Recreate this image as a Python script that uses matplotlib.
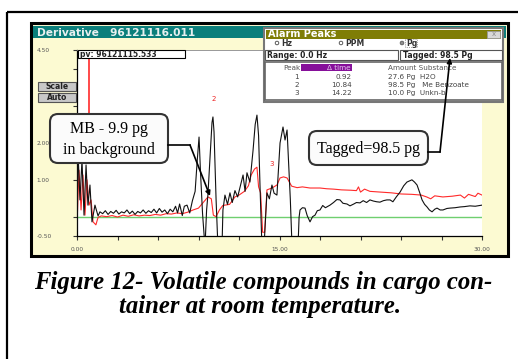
import numpy as np
import matplotlib
matplotlib.use("Agg")
import matplotlib.pyplot as plt
from matplotlib.patches import Rectangle, FancyBboxPatch, Circle

# black trace (derivative signal), time in minutes
t_black = [0.00, 0.07, 0.22, 0.37, 0.52, 0.67, 0.81, 0.96, 1.11, 1.33, 1.56, 1.70,
           1.90, 2.10, 2.30, 2.50, 2.70, 2.90, 3.10, 3.30, 3.50, 3.70, 3.90, 4.10,
           4.30, 4.50, 4.70, 4.90, 5.10, 5.30, 5.50, 5.70, 5.90, 6.10, 6.30, 6.50,
           6.70, 6.90, 7.10, 7.30, 7.45, 7.60, 7.80, 7.95, 8.15, 8.35, 8.55, 8.75,
           8.90, 9.04, 9.15, 9.30, 9.48, 9.60, 9.70, 9.85, 10.00, 10.07, 10.15, 10.30,
           10.44, 10.74, 10.81, 10.96, 11.15, 11.33, 11.50, 11.70, 11.90, 12.07, 12.30, 12.45,
           12.59, 12.81, 13.04, 13.20, 13.33, 13.45, 13.56, 13.70, 13.85, 14.07, 14.25, 14.44,
           14.60, 14.81, 15.04, 15.26, 15.41, 15.56, 15.63, 15.80, 15.93, 16.37, 16.45, 16.52,
           16.70, 16.89, 17.05, 17.26, 17.45, 17.63, 17.80, 18.00, 18.20, 18.40, 18.74, 19.00,
           19.25, 19.48, 19.70, 20.00, 20.22, 20.50, 20.70, 20.96, 21.20, 21.45, 21.70, 21.95,
           22.20, 22.44, 22.70, 22.95, 23.19, 23.40, 23.65, 23.93, 24.20, 24.44, 24.81, 25.00,
           25.19, 25.40, 25.56, 25.75, 25.93, 26.10, 26.30, 26.50, 26.67, 26.90, 27.11, 27.40,
           27.63, 28.00, 28.37, 28.70, 29.11, 29.50, 30.00]
v_black = [-0.34, 1.81, 0.47, 1.54, 0.06, 1.41, 0.33, 0.87, -0.12, 0.33, 0.04, 0.15,
           0.10, 0.18, 0.08, 0.16, 0.11, 0.19, 0.09, 0.15, 0.12, 0.20, 0.10, 0.17,
           0.08, 0.16, 0.12, 0.20, 0.11, 0.18, 0.13, 0.22, 0.12, 0.24, 0.14, 0.20,
           0.10, 0.22, 0.15, 0.30, 0.12, 0.36, 0.05, 0.30, 0.33, 0.12, 0.45, 0.70,
           1.50, 2.16, 1.20, 0.10, -0.80, 0.20, 0.62, 1.60, 2.55, 2.70, 2.30, 0.50,
           -0.80, -0.80, 0.20, 0.60, 0.35, 0.66, 0.40, 0.72, 0.55, 0.80, 1.14, 0.70,
           1.20, 0.95, 1.80, 2.50, 2.75, 2.20, 0.80, -0.80, -0.80, 0.66, 0.50, 0.87,
           0.65, 0.60, 2.00, 2.43, 2.08, 2.35, 1.81, 0.50, -0.80, -0.80, 0.00, 0.20,
           0.26, 0.25, 0.05, -0.12, 0.02, 0.06, 0.18, 0.20, 0.32, 0.26, 0.33, 0.40,
           0.48, 0.47, 0.38, 0.36, 0.31, 0.36, 0.40, 0.39, 0.45, 0.40, 0.47, 0.44,
           0.42, 0.41, 0.45, 0.47, 0.47, 0.42, 0.55, 0.68, 0.85, 0.95, 1.01, 0.95,
           0.87, 0.65, 0.47, 0.35, 0.28, 0.20, 0.15, 0.22, 0.25, 0.20, 0.20, 0.24,
           0.25, 0.26, 0.28, 0.29, 0.31, 0.30, 0.33]

# red trace
t_red = [0.00, 0.15, 0.30, 0.44, 0.59, 0.74, 0.89, 1.04, 1.19, 1.40, 1.56, 1.80,
         2.2, 2.6, 3.0, 3.4, 3.8, 4.2, 4.6, 5.0, 5.4, 5.8, 6.2, 6.6,
         7.0, 7.4, 7.8, 8.2, 8.6, 9.0, 9.3, 9.7, 9.95, 10.1, 10.3, 10.55,
         10.8, 11.3, 11.7, 12.0, 12.4, 12.7, 12.9, 13.15, 13.33, 13.45, 13.60, 13.75,
         13.90, 14.07, 14.44, 14.81, 15.04, 15.3, 15.56, 15.9, 16.3, 16.7, 17.26, 18.0,
         18.5, 19.0, 19.6, 20.3, 20.7, 20.85, 21.0, 21.3, 21.7, 22.5, 23.3, 24.0,
         24.8, 25.5, 25.9, 26.2, 26.5, 27.1, 27.8, 28.4, 28.7, 29.0, 29.5, 29.7, 30.0]
v_red = [-0.20, 1.27, 0.20, 1.14, 0.06, 1.01, 0.33, 0.47, -0.12, -0.20, 0.00, 0.04,
         0.02, 0.05, 0.01, 0.06, 0.03, 0.07, 0.04, 0.06, 0.05, 0.08, 0.06, 0.10,
         0.09, 0.12, 0.10, 0.14, 0.20, 0.25, 0.38, 0.55, 0.50, 0.06, 0.02, 0.20,
         0.32, 0.35, 0.55, 0.60, 0.70, 0.85, 1.14, 1.30, 1.35, 0.82, 0.66, -0.40,
         -0.40, 0.74, 0.79, 0.87, 1.06, 1.09, 1.06, 0.84, 0.80, 0.82, 0.79, 0.79,
         0.77, 0.76, 0.74, 0.73, 0.72, 0.82, 0.68, 0.76, 0.70, 0.68, 0.66, 0.63,
         0.62, 0.60, 0.55, 0.50, 0.58, 0.55, 0.57, 0.60, 0.52, 0.62, 0.56, 0.65, 0.60]

x_ticks = [0, 3, 6, 9, 12, 15, 18, 21, 24, 27, 30]
x_labels = ["0.00", "", "", "", "", "15.00", "", "", "", "", "30.00"]
y_ticks = [4.5, 4.0, 3.0, 2.0, 1.0, 0.0, -0.5]
y_labels = ["4.50", "", "", "2.00", "1.00", "", "-0.50"]
marker_t = 0.92
baseline = 0.0
peak_labels = [("2", 10.15, 3.18), ("3", 14.44, 1.44)]

W, H = 518, 359
fig = plt.figure(figsize=(W / 100, H / 100), dpi=100)
fig.patch.set_facecolor("white")

# background layer in pixel coords
bg = fig.add_axes([0, 0, 1, 1], zorder=0)
bg.set_xlim(0, W)
bg.set_ylim(H, 0)
bg.axis("off")

bg.add_patch(Rectangle((7, 12), 530, 370, fill=False, ec="black", lw=1.6))
bg.add_patch(Rectangle((31, 23), 477, 233, fc="#fcfad2", ec="black", lw=2.2))
bg.add_patch(Rectangle((33, 26), 473, 12, fc="#0b7f7b", ec="none"))
bg.text(37, 32.5, "Derivative   96121116.011", color="#e8f0f0", fontsize=7.7,
        fontweight="bold", va="center", ha="left")

for lab, y0 in [("Scale", 82), ("Auto", 93)]:
    bg.add_patch(Rectangle((38, y0), 38, 9, fc="#c8c8c8", ec="#555555", lw=0.8))
    bg.text(57, y0 + 4.7, lab, fontsize=5.5, fontweight="bold", color="#222222",
            ha="center", va="center")

bg.text(263, 283, "Figure 12- Volatile compounds in cargo con-", fontsize=17.8,
        family="Liberation Serif", fontweight="bold", style="italic",
        ha="center", va="center")
bg.text(260, 306, "tainer at room temperature.", fontsize=17.8,
        family="Liberation Serif", fontweight="bold", style="italic",
        ha="center", va="center")

# the chart itself
ax = fig.add_axes([77 / W, 1 - 236 / H, 405 / W, 186 / H], zorder=1)
ax.set_facecolor("white")
ax.set_xlim(0, 30)
ax.set_ylim(-0.5, 4.5)
ax.axhline(baseline, color="#6fcf6f", lw=1.0, zorder=1)
ax.plot(t_red, v_red, color="#ff2a2a", lw=0.8, zorder=2)
ax.plot(t_black, v_black, color="#111111", lw=0.8, zorder=3)
ax.vlines(marker_t, 1.8, 4.3, color="#ff2a2a", lw=1.2, zorder=2)
for s, t, v in peak_labels:
    ax.text(t, v, s, color="#ee2222", fontsize=5, ha="center", va="center")

ax.set_xticks(x_ticks)
ax.set_xticklabels(x_labels)
ax.set_yticks(y_ticks)
ax.set_yticklabels(y_labels)
ax.tick_params(axis="both", length=3, width=0.8, color="#333333",
               labelsize=4.2, labelcolor="#555555")
ax.tick_params(axis="x", pad=5)
ax.tick_params(axis="y", pad=26)
for lab in ax.get_yticklabels():
    lab.set_horizontalalignment("left")
ax.spines["right"].set_visible(False)
ax.spines["top"].set_color("#888888")
ax.spines["top"].set_linewidth(0.6)
ax.spines["left"].set_linewidth(0.9)
ax.spines["bottom"].set_linewidth(0.9)

# overlay: alarm window, callouts
ov = fig.add_axes([0, 0, 1, 1], zorder=2)
ov.set_xlim(0, W)
ov.set_ylim(H, 0)
ov.axis("off")
ov.patch.set_alpha(0)

ov.add_patch(Rectangle((78, 50), 107, 8, fc="white", ec="black", lw=0.8))
ov.text(80, 54.3, "pv: 96121115.533", fontsize=5.5, fontweight="bold",
        color="#222222", va="center")

ov.add_patch(Rectangle((264, 28), 239, 74, fc="white", ec="#777777", lw=1.5))
ov.add_patch(Rectangle((266, 29.5), 235, 9, fc="#7f7d05", ec="none"))
ov.text(268, 34.2, "Alarm Peaks", color="white", fontsize=7.0, fontweight="bold",
        va="center")
ov.add_patch(Rectangle((487, 30.5), 13, 7, fc="#d8d8d8", ec="#999999", lw=0.6))
ov.text(493.5, 34, "x", fontsize=5, color="#888888", ha="center", va="center")

for xc, lab, sel in [(277, "Hz", False), (341, "PPM", False), (402, "Pg", True)]:
    ov.add_patch(Circle((xc, 43), 1.8, fc="white", ec="#444444", lw=0.6))
    if sel:
        ov.add_patch(Circle((xc, 43), 0.8, fc="#222222", ec="none"))
    ov.text(xc + 4, 43.3, lab, fontsize=5.5, fontweight="bold", color="#333333",
            va="center")
ov.add_patch(Rectangle((405, 39), 12, 8, fill=False, ec="#555555", lw=0.5, ls=":"))

ov.add_patch(Rectangle((265, 50), 133, 10, fc="white", ec="#555555", lw=0.8))
ov.text(267, 55.3, "Range: 0.0 Hz", fontsize=5.5, fontweight="bold",
        color="#222222", va="center")
ov.add_patch(Rectangle((400, 50), 102, 10, fc="white", ec="#555555", lw=0.8))
ov.text(403, 55.3, "Tagged: 98.5 Pg", fontsize=5.5, fontweight="bold",
        color="#222222", va="center")

ov.add_patch(Rectangle((265, 62), 237, 38, fc="white", ec="#666666", lw=1.2))
ov.add_patch(Rectangle((301, 63.5), 51, 7.5, fc="#86109a", ec="none"))
ov.text(300, 67.8, "Peak", fontsize=5.2, color="#555555", ha="right", va="center")
ov.text(351, 67.8, "\u0394 time", fontsize=5.2, color="#e6c8ee", ha="right",
        va="center")
ov.text(388, 67.8, "Amount Substance", fontsize=5.2, color="#555555", va="center")
rows = [("1", "0.92", "27.6 Pg  H2O"), ("2", "10.84", "98.5 Pg   Me Benzoate"),
        ("3", "14.22", "10.0 Pg  Unkn-b")]
for i, (p, dt, sub) in enumerate(rows):
    yy = 77 + 8 * i
    ov.text(299, yy, p, fontsize=5.2, color="#444444", ha="right", va="center")
    ov.text(352, yy, dt, fontsize=5.2, color="#444444", ha="right", va="center")
    ov.text(388, yy, sub, fontsize=5.2, color="#444444", va="center")

# callouts
for (x0, y0, w, h) in [(50, 114, 118, 49), (309, 131, 119, 34)]:
    ov.add_patch(FancyBboxPatch((x0, y0), w, h, boxstyle="round,pad=0,rounding_size=8",
                                fc="#fbfbfb", ec="#333333", lw=1.5))
ov.text(109, 129, "MB - 9.9 pg", fontsize=11.5, family="Liberation Serif",
        ha="center", va="center")
ov.text(109, 150, "in background", fontsize=11.5, family="Liberation Serif",
        ha="center", va="center")
ov.text(368.5, 149, "Tagged=98.5 pg", fontsize=11.5, family="Liberation Serif",
        ha="center", va="center")

ov.plot([168, 190], [145, 145], color="black", lw=1.2)
ov.annotate("", xy=(210, 196), xytext=(190, 145),
            arrowprops=dict(arrowstyle="-|>", color="black", lw=1.2,
                            mutation_scale=7, shrinkA=0, shrinkB=0))
ov.plot([428, 440], [152, 152], color="black", lw=1.2)
ov.annotate("", xy=(450, 58), xytext=(440, 152),
            arrowprops=dict(arrowstyle="-|>", color="black", lw=1.2,
                            mutation_scale=7, shrinkA=0, shrinkB=0))

fig.savefig("out.png", dpi=100)
